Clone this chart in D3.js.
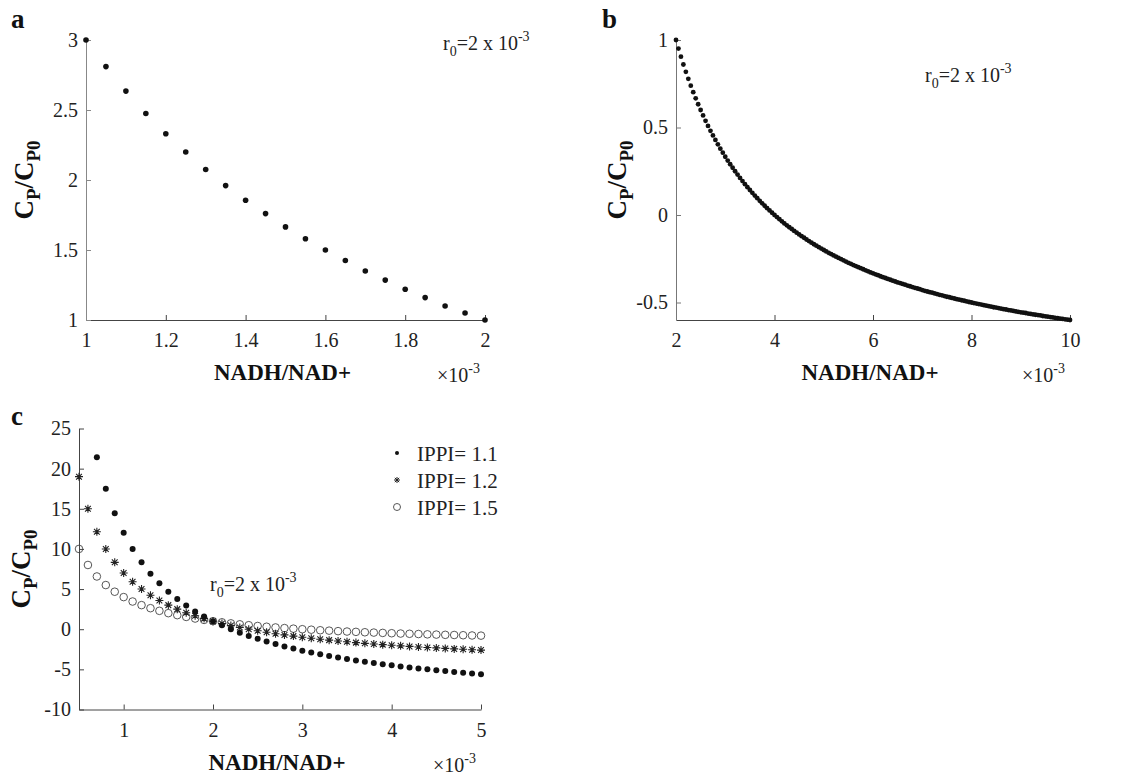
<!DOCTYPE html>
<html>
<head>
<meta charset="utf-8">
<script src="https://cdn.jsdelivr.net/npm/d3@7/dist/d3.min.js"></script>
<style>
body { margin: 0; background: #fff; }
svg { font-family: "Liberation Serif", "Times New Roman", serif; }
.tick text { font-family: "Liberation Serif", "Times New Roman", serif; font-size: 20px; fill: #222; }
.lab { font-weight: bold; fill: #111; }
</style>
</head>
<body>
<div id="chart"></div>
<script>

// panel a
var aX = [1, 1.05, 1.1, 1.15, 1.2, 1.25, 1.3, 1.35, 1.4, 1.45, 1.5, 1.55, 1.6, 1.65, 1.7, 1.75, 1.8, 1.85, 1.9, 1.95, 2];
var aY = [3, 2.81, 2.635, 2.475, 2.33, 2.2, 2.075, 1.96, 1.855, 1.76, 1.665, 1.58, 1.5, 1.425, 1.35, 1.285, 1.22, 1.16, 1.1, 1.05, 1];

// panel b
var bX = [2, 2.05, 2.1, 2.15, 2.2, 2.25, 2.3, 2.35, 2.4, 2.45,
  2.5, 2.55, 2.6, 2.65, 2.7, 2.75, 2.8, 2.85, 2.9, 2.95,
  3, 3.05, 3.1, 3.15, 3.2, 3.25, 3.3, 3.35, 3.4, 3.45,
  3.5, 3.55, 3.6, 3.65, 3.7, 3.75, 3.8, 3.85, 3.9, 3.95,
  4, 4.05, 4.1, 4.15, 4.2, 4.25, 4.3, 4.35, 4.4, 4.45,
  4.5, 4.55, 4.6, 4.65, 4.7, 4.75, 4.8, 4.85, 4.9, 4.95,
  5, 5.05, 5.1, 5.15, 5.2, 5.25, 5.3, 5.35, 5.4, 5.45,
  5.5, 5.55, 5.6, 5.65, 5.7, 5.75, 5.8, 5.85, 5.9, 5.95,
  6, 6.05, 6.1, 6.15, 6.2, 6.25, 6.3, 6.35, 6.4, 6.45,
  6.5, 6.55, 6.6, 6.65, 6.7, 6.75, 6.8, 6.85, 6.9, 6.95,
  7, 7.05, 7.1, 7.15, 7.2, 7.25, 7.3, 7.35, 7.4, 7.45,
  7.5, 7.55, 7.6, 7.65, 7.7, 7.75, 7.8, 7.85, 7.9, 7.95,
  8, 8.05, 8.1, 8.15, 8.2, 8.25, 8.3, 8.35, 8.4, 8.45,
  8.5, 8.55, 8.6, 8.65, 8.7, 8.75, 8.8, 8.85, 8.9, 8.95,
  9, 9.05, 9.1, 9.15, 9.2, 9.25, 9.3, 9.35, 9.4, 9.45,
  9.5, 9.55, 9.6, 9.65, 9.7, 9.75, 9.8, 9.85, 9.9, 9.95,
  10];
var bY = [1.000, 0.951, 0.905, 0.860, 0.818, 0.778, 0.739, 0.702, 0.667, 0.633,
  0.600, 0.569, 0.538, 0.509, 0.481, 0.455, 0.429, 0.404, 0.379, 0.356,
  0.333, 0.311, 0.290, 0.270, 0.250, 0.231, 0.212, 0.194, 0.176, 0.159,
  0.143, 0.127, 0.111, 0.096, 0.081, 0.067, 0.053, 0.039, 0.026, 0.013,
  0, -0.012, -0.024, -0.036, -0.048, -0.059, -0.070, -0.080, -0.091, -0.101,
  -0.111, -0.121, -0.130, -0.140, -0.149, -0.158, -0.167, -0.175, -0.184, -0.192,
  -0.200, -0.208, -0.216, -0.223, -0.231, -0.238, -0.245, -0.252, -0.259, -0.266,
  -0.273, -0.279, -0.286, -0.292, -0.298, -0.304, -0.310, -0.316, -0.322, -0.328,
  -0.333, -0.339, -0.344, -0.350, -0.355, -0.360, -0.365, -0.370, -0.375, -0.380,
  -0.385, -0.389, -0.394, -0.398, -0.403, -0.407, -0.412, -0.416, -0.420, -0.424,
  -0.429, -0.433, -0.437, -0.441, -0.444, -0.448, -0.452, -0.456, -0.459, -0.463,
  -0.467, -0.470, -0.474, -0.477, -0.481, -0.484, -0.487, -0.490, -0.494, -0.497,
  -0.500, -0.503, -0.506, -0.509, -0.512, -0.515, -0.518, -0.521, -0.524, -0.527,
  -0.529, -0.532, -0.535, -0.538, -0.540, -0.543, -0.545, -0.548, -0.551, -0.553,
  -0.556, -0.558, -0.560, -0.563, -0.565, -0.568, -0.570, -0.572, -0.574, -0.577,
  -0.579, -0.581, -0.583, -0.585, -0.588, -0.590, -0.592, -0.594, -0.596, -0.598,
  -0.600];

// panel c
var cX = [0.5, 0.6, 0.7, 0.8, 0.9, 1, 1.1, 1.2, 1.3, 1.4, 1.5, 1.6, 1.7, 1.8, 1.9, 2,
  2.1, 2.2, 2.3, 2.4, 2.5, 2.6, 2.7, 2.8, 2.9, 3, 3.1, 3.2, 3.3, 3.4, 3.5,
  3.6, 3.7, 3.8, 3.9, 4, 4.1, 4.2, 4.3, 4.4, 4.5, 4.6, 4.7, 4.8, 4.9, 5];
var ippi11 = [null, null, 21.43, 17.5, 14.44, 12, 10, 8.33, 6.92, 5.71, 4.67, 3.75, 2.94, 2.22, 1.58, 1,
  0.48, 0, -0.43, -0.83, -1.2, -1.54, -1.85, -2.14, -2.41, -2.67, -2.9, -3.13, -3.33, -3.53, -3.71,
  -3.89, -4.05, -4.21, -4.36, -4.5, -4.63, -4.76, -4.88, -5, -5.11, -5.22, -5.32, -5.42, -5.51, -5.6];
var ippi12 = [19, 15, 12.14, 10, 8.33, 7, 5.91, 5, 4.23, 3.57, 3, 2.5, 2.06, 1.67, 1.32, 1,
  0.71, 0.45, 0.22, 0, -0.2, -0.38, -0.56, -0.71, -0.86, -1, -1.13, -1.25, -1.36, -1.47, -1.57,
  -1.67, -1.76, -1.84, -1.92, -2, -2.07, -2.14, -2.21, -2.27, -2.33, -2.39, -2.45, -2.5, -2.55, -2.6];
var ippi15 = [10, 8, 6.57, 5.5, 4.67, 4, 3.45, 3, 2.62, 2.29, 2, 1.75, 1.53, 1.33, 1.16, 1,
  0.86, 0.73, 0.61, 0.5, 0.4, 0.31, 0.22, 0.14, 0.07, 0, -0.06, -0.13, -0.18, -0.24, -0.29,
  -0.33, -0.38, -0.42, -0.46, -0.5, -0.54, -0.57, -0.6, -0.64, -0.67, -0.7, -0.72, -0.75, -0.78, -0.8];
var legendLabels = ["IPPI= 1.1", "IPPI= 1.2", "IPPI= 1.5"];

var aTicksX = [1, 1.2, 1.4, 1.6, 1.8, 2], aTicksY = [1, 1.5, 2, 2.5, 3];
var bTicksX = [2, 4, 6, 8, 10], bTicksY = [-0.5, 0, 0.5, 1];
var cTicksX = [1, 2, 3, 4, 5], cTicksY = [-10, -5, 0, 5, 10, 15, 20, 25];

var svg = d3.select("#chart").append("svg")
    .attr("width", 1130)
    .attr("height", 774);

function zip(xs, ys) {
  return xs.map(function(x, i) { return {x: x, y: ys[i]}; })
    .filter(function(d) { return d.y != null; });
}

function starPath(s) {
  var d = s * 0.72;
  return "M0," + (-s) + "L0," + s + "M" + (-s) + ",0L" + s + ",0" +
    "M" + (-d) + "," + (-d) + "L" + d + "," + d + "M" + (-d) + "," + d + "L" + d + "," + (-d);
}

function styleAxis(a, col) {
  a.attr("font-family", null).attr("font-size", null);
  a.select(".domain").attr("stroke", col);
  a.selectAll(".tick line").attr("stroke", col);
}

// sets up one panel: scales, axes, labels
function panel(o) {
  var x = d3.scaleLinear().domain(o.xd).range(o.xr);
  var y = d3.scaleLinear().domain(o.yd).range(o.yr);
  var g = svg.append("g");

  g.append("g")
      .attr("transform", "translate(0," + o.yr[0] + ")")
      .call(d3.axisBottom(x).tickValues(o.xt).tickFormat(String)
        .tickSizeInner(-5).tickSizeOuter(0).tickPadding(13))
      .call(styleAxis, "#444");

  g.append("g")
      .attr("transform", "translate(" + o.xr[0] + ",0)")
      .call(d3.axisLeft(y).tickValues(o.yt).tickFormat(String)
        .tickSizeInner(-5).tickSizeOuter(0).tickPadding(8))
      .call(styleAxis, o.ycol);

  // panel letter
  g.append("text").attr("class", "lab")
      .attr("x", o.letter[0]).attr("y", o.letter[1])
      .attr("font-size", 27).text(o.name);

  // x label
  g.append("text").attr("class", "lab")
      .attr("x", (o.xr[0] + o.xr[1]) / 2 - 3).attr("y", o.yr[0] + 60)
      .attr("text-anchor", "middle").attr("font-size", 23)
      .text("NADH/NAD+");

  // x10^-3
  var m = g.append("text")
      .attr("x", o.xr[1] - 48).attr("y", o.yr[0] + 62)
      .attr("font-size", 20).attr("fill", "#222");
  m.append("tspan").text("\u00d710");
  m.append("tspan").attr("dy", -9).attr("font-size", 14).text("-3");

  // y label
  var yl = g.append("text").attr("class", "lab")
      .attr("transform", "translate(" + o.ylx + "," + ((o.yr[0] + o.yr[1]) / 2) + ") rotate(-90)")
      .attr("text-anchor", "middle").attr("font-size", 27);
  yl.append("tspan").text("C");
  yl.append("tspan").attr("dy", 7).attr("font-size", 19).text("P");
  yl.append("tspan").attr("dy", -7).text("/C");
  yl.append("tspan").attr("dy", 7).attr("font-size", 19).text("P0");

  // r0 note
  var r = g.append("text")
      .attr("x", o.note[0]).attr("y", o.note[1])
      .attr("font-size", 20).attr("fill", "#222");
  r.append("tspan").text("r");
  r.append("tspan").attr("dy", 6).attr("font-size", 14).text("0");
  r.append("tspan").attr("dy", -6).text("=2 x 10");
  r.append("tspan").attr("dy", -9).attr("font-size", 14).text("-3");

  return {g: g, x: x, y: y};
}

// a
var pa = panel({xd: [1, 2], xr: [86, 485], yd: [1, 3], yr: [320, 40],
  xt: aTicksX, yt: aTicksY, ycol: "#888", name: "a", letter: [11, 28],
  ylx: 33, note: [443, 50]});
pa.g.selectAll(".pa").data(zip(aX, aY)).enter().append("circle")
    .attr("cx", function(d) { return pa.x(d.x); })
    .attr("cy", function(d) { return pa.y(d.y); })
    .attr("r", 2.8).attr("fill", "#111");

// b
var pb = panel({xd: [2, 10], xr: [676, 1070], yd: [-0.6, 1], yr: [320, 40],
  xt: bTicksX, yt: bTicksY, ycol: "#777", name: "b", letter: [602, 28],
  ylx: 626, note: [925, 82]});
pb.g.selectAll(".pb").data(zip(bX, bY)).enter().append("circle")
    .attr("cx", function(d) { return pb.x(d.x); })
    .attr("cy", function(d) { return pb.y(d.y); })
    .attr("r", 2.4).attr("fill", "#111");

// c
var pc = panel({xd: [0.5, 5], xr: [79, 481], yd: [-10, 25], yr: [709.5, 428.5],
  xt: cTicksX, yt: cTicksY, ycol: "#444", name: "c", letter: [11, 425],
  ylx: 30, note: [210, 591]});

pc.g.selectAll(".c15").data(zip(cX, ippi15)).enter().append("circle")
    .attr("cx", function(d) { return pc.x(d.x); })
    .attr("cy", function(d) { return pc.y(d.y); })
    .attr("r", 3.8).attr("fill", "none").attr("stroke", "#444").attr("stroke-width", 0.9);

pc.g.selectAll(".c12").data(zip(cX, ippi12)).enter().append("path")
    .attr("transform", function(d) { return "translate(" + pc.x(d.x) + "," + pc.y(d.y) + ")"; })
    .attr("d", starPath(4)).attr("stroke", "#222").attr("stroke-width", 1.1).attr("fill", "none");

pc.g.selectAll(".c11").data(zip(cX, ippi11)).enter().append("circle")
    .attr("cx", function(d) { return pc.x(d.x); })
    .attr("cy", function(d) { return pc.y(d.y); })
    .attr("r", 3).attr("fill", "#111");

// legend
var lg = pc.g.append("g").attr("transform", "translate(397,453)");
var rows = lg.selectAll("g").data(legendLabels).enter().append("g")
    .attr("transform", function(d, i) { return "translate(0," + (i * 27) + ")"; });
rows.append("text").attr("x", 20).attr("y", 7.5)
    .attr("font-size", 21).attr("fill", "#222").text(function(d) { return d; });
lg.append("circle").attr("r", 2).attr("fill", "#111");
lg.append("path").attr("transform", "translate(0,27)").attr("d", starPath(3))
    .attr("stroke", "#222").attr("fill", "none");
lg.append("circle").attr("cy", 54).attr("r", 3.5).attr("fill", "none")
    .attr("stroke", "#444").attr("stroke-width", 0.9);

</script>
</body>
</html>
